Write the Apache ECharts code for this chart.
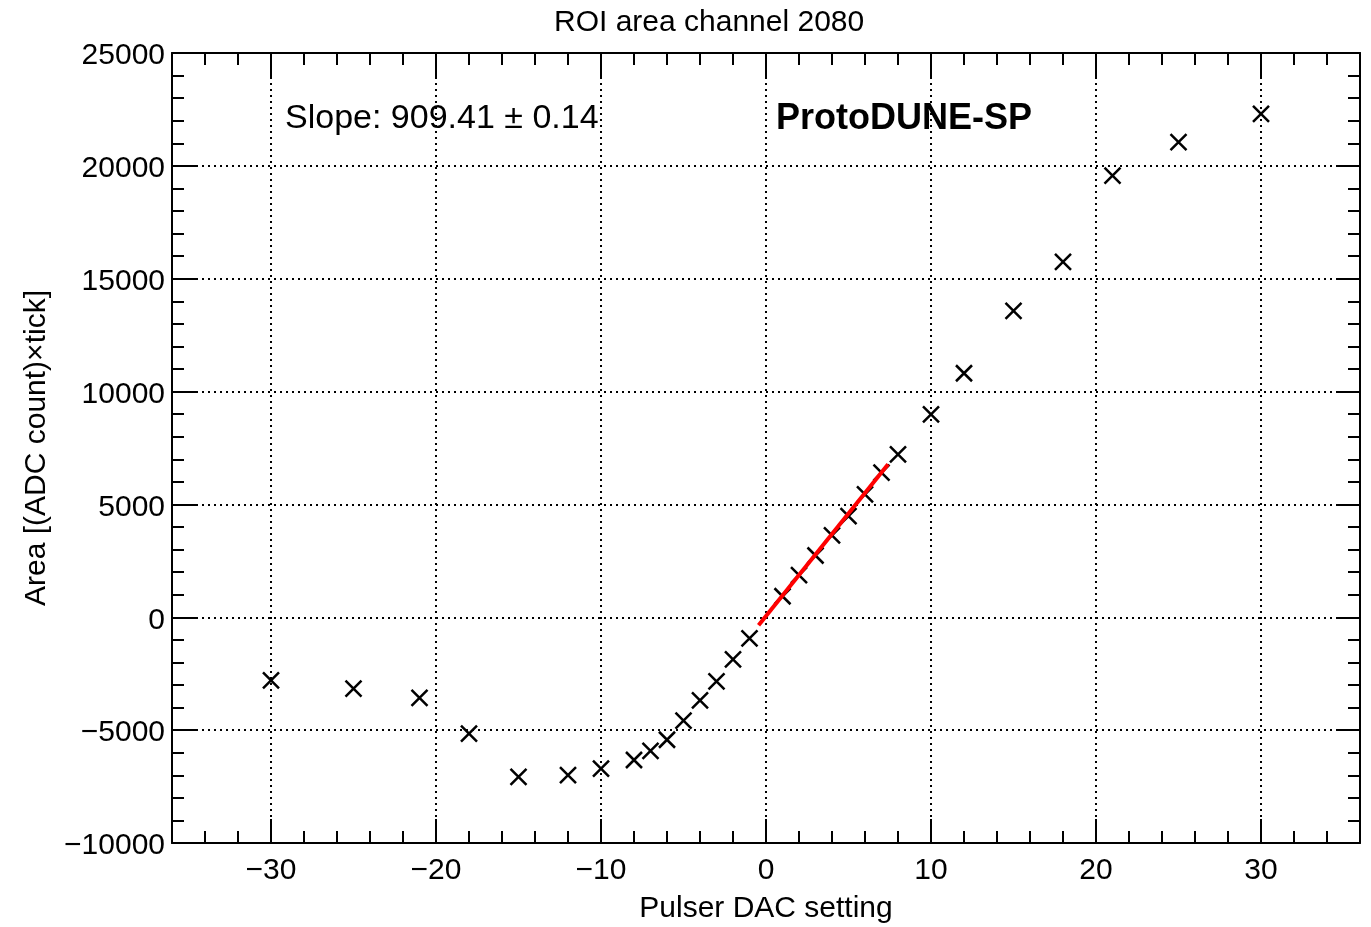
<!DOCTYPE html>
<html>
<head>
<meta charset="utf-8">
<script src="https://cdn.jsdelivr.net/npm/echarts@6/dist/echarts.min.js"></script>
<style>
  html, body { margin: 0; padding: 0; background: #fff; }
  #chart { width: 1371px; height: 927px; }
</style>
</head>
<body>
<div id="chart"></div>
<script>
// ---- data ----
const dacSettings = [-30, -25, -21, -18, -15, -12, -10, -8, -7, -6, -5, -4, -3, -2, -1,
                     1, 2, 3, 4, 5, 6, 7, 8, 10, 12, 15, 18, 21, 25, 30];
const roiArea = [-2790, -3157, -3574, -5151, -7072, -6997, -6701, -6323, -5914, -5426, -4583, -3682, -2839, -1860, -930,
                 932, 1863, 2737, 3625, 4481, 5444, 6406, 7218, 8993, 10812, 13576, 15749, 19565, 21047, 22303];
const fitX = [-0.45, 7.4];
const fitY = [-355, 6775];
const xMajorTicks = [-30, -20, -10, 0, 10, 20, 30];
const titleText = 'ROI area channel 2080';
const slopeText = 'Slope: 909.41 \u00b1 0.14';
const expText = 'ProtoDUNE-SP';
const xName = 'Pulser DAC setting';
const yName = 'Area [(ADC count)\u00d7tick]';

const FONT = '"Liberation Sans", Arial, Helvetica, sans-serif';
const minus = v => String(v).replace('-', '\u2212');
const dotted = { type: [2, 4], color: '#000', width: 2 };
const blackLine = { color: '#000', width: 2 };

const chart = echarts.init(document.getElementById('chart'), null, { renderer: 'canvas' });

const xBase = { type: 'value', min: -36, max: 36, interval: 2, gridIndex: 0 };

chart.setOption({
  animation: false,
  backgroundColor: '#fff',
  textStyle: { fontFamily: FONT },
  title: {
    text: titleText,
    left: 549, top: 3,
    textStyle: { fontSize: 30, fontWeight: 'normal', color: '#000', fontFamily: FONT }
  },
  grid: { left: 172, right: 11, top: 53, bottom: 84, containLabel: false, outerBoundsMode: 'none' },
  xAxis: [
    Object.assign({}, xBase, {
      position: 'bottom',
      name: xName, nameLocation: 'middle', nameGap: 51,
      nameTextStyle: { fontSize: 30, color: '#000', fontFamily: FONT },
      axisLine: { show: true, onZero: false, lineStyle: blackLine },
      axisTick: { show: true, inside: true, length: 24, customValues: xMajorTicks, lineStyle: blackLine },
      axisLabel: { show: true, customValues: xMajorTicks, fontSize: 30, color: '#000', margin: 13, formatter: minus, fontFamily: FONT },
      splitLine: { show: true, lineStyle: dotted },
      minorTick: { show: false }
    }),
    Object.assign({}, xBase, {
      position: 'bottom',
      axisLine: { show: false, onZero: false },
      axisTick: { show: true, inside: true, length: 12, lineStyle: blackLine },
      axisLabel: { show: false },
      splitLine: { show: false }
    }),
    Object.assign({}, xBase, {
      position: 'top',
      axisLine: { show: true, onZero: false, lineStyle: blackLine },
      axisTick: { show: true, inside: true, length: 24, customValues: xMajorTicks, lineStyle: blackLine },
      axisLabel: { show: false },
      splitLine: { show: false }
    }),
    Object.assign({}, xBase, {
      position: 'top',
      axisLine: { show: false, onZero: false },
      axisTick: { show: true, inside: true, length: 12, lineStyle: blackLine },
      axisLabel: { show: false },
      splitLine: { show: false }
    })
  ],
  yAxis: [
    {
      type: 'value', position: 'left', min: -10000, max: 25000, interval: 5000,
      name: yName, nameLocation: 'middle', nameGap: 120,
      nameTextStyle: { fontSize: 30, color: '#000', fontFamily: FONT },
      axisLine: { show: true, onZero: false, lineStyle: blackLine },
      axisTick: { show: true, inside: true, length: 24, lineStyle: blackLine },
      minorTick: { show: true, splitNumber: 5, length: 12, lineStyle: blackLine },
      axisLabel: {
        show: true, color: '#000', margin: 7,
        formatter: v => '{a|' + minus(v) + '}',
        rich: { a: { fontSize: 30, color: '#000', fontFamily: FONT, padding: [6, 0, 0, 0] } }
      },
      splitLine: { show: true, lineStyle: dotted }
    },
    {
      type: 'value', position: 'right', min: -10000, max: 25000, interval: 5000,
      axisLine: { show: true, onZero: false, lineStyle: blackLine },
      axisTick: { show: true, inside: true, length: 24, lineStyle: blackLine },
      minorTick: { show: true, splitNumber: 5, length: 12, lineStyle: blackLine },
      axisLabel: { show: false },
      splitLine: { show: false }
    }
  ],
  graphic: [
    { type: 'text', left: 285, top: 102, z: 100,
      style: { text: slopeText, font: '34px ' + FONT, fill: '#000' } },
    { type: 'text', left: 776, top: 101, z: 100,
      style: { text: expText, font: 'bold 36px ' + FONT, fill: '#000' } }
  ],
  series: [
    {
      type: 'scatter', xAxisIndex: 0, yAxisIndex: 0,
      data: dacSettings.map((x, i) => [x, roiArea[i]]),
      symbol: 'path://M0,0L10,10M10,0L0,10',
      symbolSize: 16,
      itemStyle: { color: 'none', borderColor: '#000', borderWidth: 2.5, opacity: 1 },
      emphasis: { disabled: true },
      z: 5
    },
    {
      type: 'line', xAxisIndex: 0, yAxisIndex: 0,
      data: fitX.map((x, i) => [x, fitY[i]]),
      symbol: 'none',
      lineStyle: { color: '#ff0000', width: 4 },
      z: 6
    }
  ]
});
</script>
</body>
</html>
